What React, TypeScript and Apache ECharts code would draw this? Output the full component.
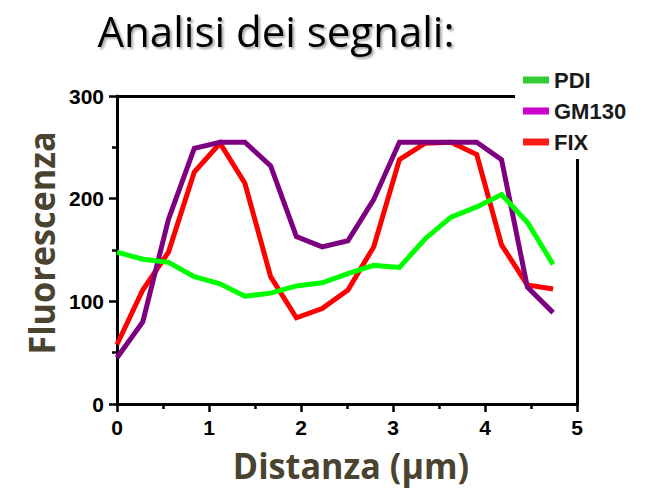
import React, { useEffect, useRef } from "react";
import * as echarts from "echarts";

const distances = [0, 0.28, 0.56, 0.84, 1.12, 1.39, 1.67, 1.95, 2.23, 2.51, 2.79, 3.07, 3.35, 3.63, 3.91, 4.18, 4.46, 4.74];
const pdi = [148, 141, 138, 124, 117, 105, 108, 115, 118, 127, 135, 133, 161, 182, 192, 204, 177, 136];
const gm130 = [45, 80, 180, 249, 255, 255, 232, 163, 153, 159, 199, 255, 255, 255, 255, 238, 114, 89];
const fix = [58, 111, 148, 226, 254, 215, 124, 84, 93, 111, 153, 238, 254, 255, 243, 155, 116, 112];
const seriesNames = ["PDI", "GM130", "FIX"];
const xTicks = [0, 1, 2, 3, 4, 5];
const yTicks = [0, 100, 200, 300];

const lineColors = ["#00ff00", "#7c007f", "#ff0000"];
const legendColors = ["#33cc33", "#cc00cc", "#ff1a1a"];

export default function App() {
  const ref = useRef<HTMLDivElement>(null);
  useEffect(() => {
    if (!ref.current) return;
    const chart = echarts.init(ref.current, undefined, { renderer: "svg" });
    const values = [pdi, gm130, fix];
    const axisFont = { fontFamily: "Liberation Sans", fontWeight: "bold" as const, fontSize: 21, color: "#000" };
    chart.setOption({
      animation: false,
      backgroundColor: "#fff",
      grid: { left: 117, right: 69, top: 96, bottom: 85 },
      xAxis: [
        {
          type: "value",
          min: xTicks[0],
          max: xTicks[xTicks.length - 1],
          interval: 1,
          axisLine: { lineStyle: { color: "#000", width: 3 } },
          axisTick: { length: 8, lineStyle: { width: 2.5, color: "#000" } },
          minorTick: { show: true, splitNumber: 2, length: 5, lineStyle: { width: 2.5, color: "#000" } },
          splitLine: { show: false },
          axisLabel: { ...axisFont, margin: 13 },
        },
        {
          type: "value",
          position: "top",
          min: 0,
          max: 5,
          axisLine: { show: true, onZero: false, lineStyle: { color: "#000", width: 3 } },
          axisTick: { show: false },
          axisLabel: { show: false },
          splitLine: { show: false },
        },
      ],
      yAxis: [
        {
          type: "value",
          min: yTicks[0],
          max: yTicks[yTicks.length - 1],
          interval: 100,
          axisLine: { show: true, lineStyle: { color: "#000", width: 3 } },
          axisTick: { show: true, length: 8, lineStyle: { width: 2.5, color: "#000" } },
          minorTick: { show: true, splitNumber: 2, length: 5, lineStyle: { width: 2.5, color: "#000" } },
          splitLine: { show: false },
          axisLabel: { ...axisFont, margin: 13 },
        },
        {
          type: "value",
          position: "right",
          min: 0,
          max: 300,
          axisLine: { show: true, onZero: false, lineStyle: { color: "#000", width: 3 } },
          axisTick: { show: false },
          axisLabel: { show: false },
          splitLine: { show: false },
        },
      ],
      legend: {
        orient: "vertical",
        left: 515,
        top: 61,
        padding: [8, 30, 6, 8],
        backgroundColor: "#fff",
        itemWidth: 26,
        itemHeight: 7,
        itemGap: 9,
        icon: "rect",
        textStyle: { fontFamily: "Liberation Sans", fontWeight: "bold", fontSize: 22, color: "#1a1a1a" },
        data: seriesNames.map((n, i) => ({ name: n, itemStyle: { color: legendColors[i] } })),
      },
      series: seriesNames.map((n, i) => ({
        name: n,
        type: "line",
        xAxisIndex: 0,
        yAxisIndex: 0,
        symbol: "none",
        itemStyle: { color: legendColors[i] },
        lineStyle: { color: lineColors[i], width: 5, join: "miter" },
        data: distances.map((d, k) => [d, values[i][k]]),
        z: 3 - i,
      })),
      graphic: [
        {
          type: "text",
          x: 276,
          y: 30,
          style: {
            text: "Analisi dei segnali:",
            fontFamily: "Open Sans",
            fontSize: 42,
            fill: "#000",
            align: "center",
            verticalAlign: "middle",
            textShadowColor: "rgba(0,0,0,0.35)",
            textShadowBlur: 2,
            textShadowOffsetX: 2,
            textShadowOffsetY: 2,
          },
        },
        {
          type: "text",
          x: 41,
          y: 243,
          rotation: Math.PI / 2,
          scaleX: 0.95,
          style: {
            text: "Fluorescenza",
            fontFamily: "Open Sans",
            fontWeight: "bold",
            fontSize: 36,
            lineHeight: 40,
            fill: "#4a4330",
            align: "center",
            verticalAlign: "middle",
          },
        },
        {
          type: "text",
          x: 351,
          y: 465,
          scaleX: 0.95,
          style: {
            text: "Distanza (µm)",
            fontFamily: "Open Sans",
            fontWeight: "bold",
            fontSize: 36,
            lineHeight: 40,
            fill: "#4a4330",
            align: "center",
            verticalAlign: "middle",
          },
        },
      ],
    });
    return () => chart.dispose();
  }, []);
  return <div ref={ref} style={{ position: "fixed", left: 0, top: 0, width: 646, height: 489 }} />;
}
